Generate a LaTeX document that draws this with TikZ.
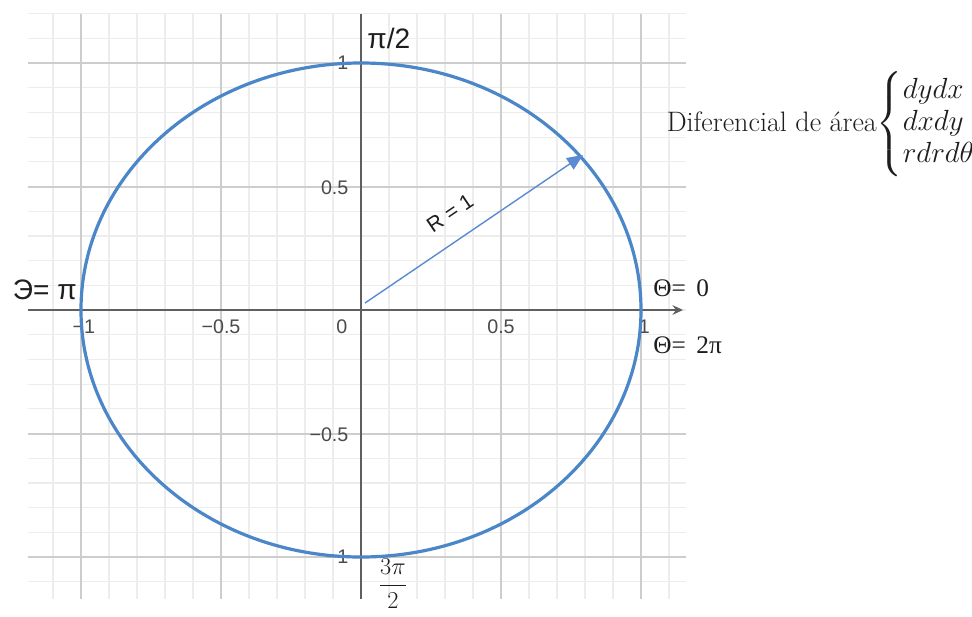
\documentclass[tikz,border=0pt]{standalone}
\usepackage{amsmath}
\usepackage{fontspec}
\newfontfamily\geosans{Liberation Sans}
\newfontfamily\geoserif{Liberation Serif}
\usetikzlibrary{arrows.meta, calc}
\definecolor{curveblue}{HTML}{4A86C8}
\definecolor{arrowblue}{HTML}{5A8AD2}
\definecolor{gridmajor}{HTML}{CDCDCD}
\definecolor{gridminor}{HTML}{EDEDED}
\definecolor{axisgray}{HTML}{5F5F5F}
\definecolor{ticktxt}{HTML}{4A4A4A}
\definecolor{lbltxt}{HTML}{1E1E1E}

\begin{document}
\begin{tikzpicture}[
  x=7cm, y=6.175cm,
  axis/.style={axisgray, line width=0.55mm},
  minorgrid/.style={gridminor, line width=0.3mm},
  majorgrid/.style={gridmajor, line width=0.5mm},
  tick/.style={ticktxt, inner sep=0pt, font=\geosans\fontsize{14}{16}\selectfont},
  lbl/.style={lbltxt, inner sep=0pt, font=\geosans\fontsize{20}{24}\selectfont},
  serlbl/.style={lbltxt, inner sep=0pt, font=\geoserif\fontsize{18}{21}\selectfont},
]

% ══════════════════════════════════════════════════════
% Page frame
% ══════════════════════════════════════════════════════
\fill[white] (-9.025cm,-7.65cm) rectangle (15.275cm,7.75cm);
\useasboundingbox (-9.025cm,-7.65cm) rectangle (15.275cm,7.75cm);

% ══════════════════════════════════════════════════════
% Grid (minor every 0.1, major every 0.5)
% ══════════════════════════════════════════════════════
\pgfmathsetmacro{\gl}{-1.19}
\pgfmathsetmacro{\gr}{1.16}
\pgfmathsetmacro{\gb}{-1.17}
\pgfmathsetmacro{\gt}{1.20}

\foreach \i in {-11,...,11}{
  \draw[minorgrid] (\i/10, \gb) -- (\i/10, \gt);
}
\foreach \j in {-11,...,12}{
  \draw[minorgrid] (\gl, \j/10) -- (\gr, \j/10);
}
\foreach \g in {-1, -0.5, 0.5, 1}{
  \draw[majorgrid] (\g, \gb) -- (\g, \gt);
  \draw[majorgrid] (\gl, \g) -- (\gr, \g);
}

% ══════════════════════════════════════════════════════
% Axes
% ══════════════════════════════════════════════════════
\draw[axis, -{Stealth[length=2.6mm, width=2.4mm]}] (\gl, 0) -- (1.15, 0);
\draw[axis] (0, \gb) -- (0, \gt);

% Tick labels
\node[tick] (tx0)  at (-0.068, -0.069) {0};
\node[tick] (txh)  at (0.5, -0.069) {0.5};
\node[tick] (txmh) at (-0.5, -0.069) {−0.5};
\node[tick] (txm1) at (-0.99, -0.069) {−1};
\node[tick] (tx1)  at (1.012, -0.069) {1};

\node[tick, anchor=east] (ty1)  at (-0.044, 1) {1};
\node[tick, anchor=east] (tyh)  at (-0.044, 0.494) {0.5};
\node[tick, anchor=east] (tymh) at (-0.044, -0.506) {−0.5};
\node[tick, anchor=east] (tym1) at (-0.044, -1.0) {−1};

% ══════════════════════════════════════════════════════
% Unit circle
% ══════════════════════════════════════════════════════
\draw[curveblue, line width=0.8mm] (0,0) ellipse [x radius=7cm, y radius=6.175cm];

% ══════════════════════════════════════════════════════
% Radius vector
% ══════════════════════════════════════════════════════
\coordinate (orig) at (0.014, 0.028);
\coordinate (rim) at (0.793, 0.628);
\draw[arrowblue, line width=0.35mm, -{Triangle[length=4mm, width=3.4mm]}]
  (orig) -- (rim);

\node[lbl, rotate=34, font=\geosans\fontsize{15}{18}\selectfont]
  (rlbl) at (0.318, 0.392) {R = 1};

% ══════════════════════════════════════════════════════
% Angle labels
% ══════════════════════════════════════════════════════
\node[lbl, anchor=west] (top)   at (0.022, 1.10) {π/2};
\node[lbl] (left)  at (-1.129, 0.081) {Э= π};
\node[serlbl, anchor=west] (zero)  at (1.043, 0.089) {Θ=\, 0};
\node[serlbl, anchor=west] (twopi) at (1.043, -0.142) {Θ=\, 2π};
\node[lbltxt, inner sep=0pt, font=\fontsize{19}{23}\selectfont]
  (bottom) at (0.114, -1.108) {$\dfrac{3\pi}{2}$};

% ══════════════════════════════════════════════════════
% Area element note
% ══════════════════════════════════════════════════════
\node[lbltxt, inner sep=0pt, anchor=west, font=\fontsize{20}{19}\selectfont]
  (note) at (1.091, 0.753)
  {Diferencial de área$\begin{cases} dydx\\ dxdy\\ rdrd\theta \end{cases}$};

\end{tikzpicture}
\end{document}
